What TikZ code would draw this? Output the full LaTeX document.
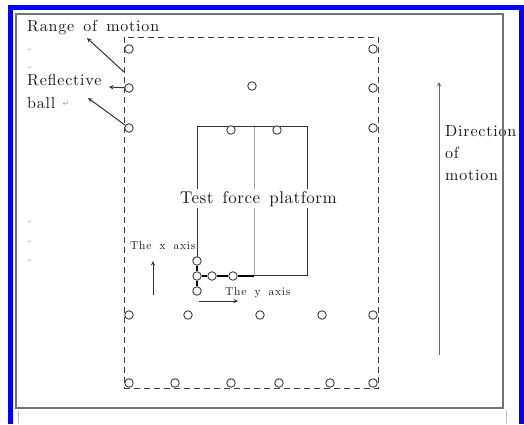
\documentclass[tikz,border=0pt]{standalone}
\usepackage{fontspec}
\newfontfamily\labfont{lmroman10-regular.otf}[LetterSpace=5,WordSpace=1.5]
\newfontfamily\smallfont{lmroman10-regular.otf}[LetterSpace=6,WordSpace=1.8]
\newfontfamily\platfont{lmroman10-regular.otf}[LetterSpace=3,WordSpace=1.5]
\newfontfamily\symfont{DejaVu Sans}
\usetikzlibrary{positioning}

\begin{document}
\begin{tikzpicture}[x=1pt, y=-1pt, >=stealth]
  \tikzstyle{ball}=[circle, draw=black!75, line width=0.9pt, minimum size=8.5pt, inner sep=0pt, fill=white]
  \tikzstyle{lab}=[inner sep=0pt, anchor=base west, text=black!90, font=\labfont\fontsize{16}{18}\selectfont]
  \tikzstyle{small}=[inner sep=0pt, anchor=base west, text=black!90, font=\smallfont\fontsize{11.5}{13}\selectfont]
  \tikzstyle{pmark}=[inner sep=0pt, text=black!35, font=\symfont\fontsize{5}{5}\selectfont]
  \tikzstyle{pointer}=[->, draw=black!80, line width=1pt]

  \useasboundingbox (0,0) rectangle (524,424);

  % frames
  \draw[blue, line width=5pt] (10,424) -- (10,7.5) -- (521,7.5) -- (521,424);
  \draw[black!25, line width=0.8pt] (18,424) -- (18,411);
  \draw[black!25, line width=0.8pt] (506,411) -- (506,424);

  % range of motion
  \draw[black!75, line width=1pt, dash pattern=on 6pt off 4pt] (124.5,37) rectangle (378,388);

  % force platform and axes
  \draw[black!35, line width=0.5pt] (254,126) -- (254,275);
  \draw[black!80, line width=1pt] (197,261) -- (197,126) -- (307,126) -- (307,275) -- (254,275);
  \coordinate (yend) at (254,276);
  \node[ball] (X1) at (197,261) {};
  \node[ball] (X2) at (197,276) {};
  \node[ball] (X3) at (197,291) {};
  \node[ball] (Y1) at (212,276) {};
  \node[ball] (Y2) at (233,276) {};
  \draw[black, line width=2pt] (X1) -- (X2);
  \draw[black, line width=2pt] (X2) -- (X3);
  \draw[black, line width=2pt] (X2) -- (Y1);
  \draw[black, line width=2pt] (Y1) -- (Y2);
  \draw[black, line width=2pt] (Y2) -- (yend);

  \node[inner sep=2pt, fill=white, anchor=base, text=black!90,
        font=\platfont\fontsize{17}{19}\selectfont] (TFP) at (258.5,203) {Test force platform};

  % reflective balls
  \foreach \y [count=\i] in {49,88,128,315,383} {
    \node[ball] (L\i) at (129,\y) {};
    \node[ball] (R\i) at (373,\y) {};
  }
  \node[ball] (M) at (252,86) {};
  \node[ball] (P1) at (231,130) {};
  \node[ball] (P2) at (277,130) {};
  \foreach \x [count=\i] in {188,260,322} {
    \node[ball] (B\i) at (\x,315) {};
  }
  \foreach \x [count=\i] in {175,231,279,330} {
    \node[ball] (E\i) at (\x,383) {};
  }

  % labels
  \node[lab] (RoM) at (27,31) {Range of motion};
  \node[lab] (Refl) at (27,85) {Reflective};
  \node[lab] (Ball) at (27,108) {ball};
  \node[pmark, font=\symfont\fontsize{8}{8}\selectfont] (BallMark) at (66,104) {↵};
  \foreach \y [count=\i] in {50,68,222,242,261} {
    \node[pmark] (PM\i) at (30,\y) {↵};
  }
  \node[small] (XAx) at (130,249) {The x axis};
  \node[small] (YAx) at (225,295) {The y axis};
  \node[lab, anchor=north west, align=left, font=\labfont\fontsize{16}{22}\selectfont]
       (DoM) at (445,125) {Direction\\of\\motion};

  % pointers
  \coordinate (rm0) at (124,72);
  \coordinate (rm1) at (87,38);
  \coordinate (rb1) at (109,87);
  \coordinate (rc1) at (88,98);
  \draw[pointer] (rm0) -- (rm1);
  \draw[pointer] (L2) -- (rb1);
  \draw[pointer] (L3) -- (rc1);

  \coordinate (xa0) at (153,295);
  \coordinate (xa1) at (153,261);
  \coordinate (ya0) at (199,301);
  \coordinate (ya1) at (238,301);
  \draw[pointer] (xa0) -- (xa1);
  \draw[pointer] (ya0) -- (ya1);

  \coordinate (dm0) at (439,355);
  \coordinate (dm1) at (439,82);
  \draw[->, draw=black!60, line width=1pt] (dm0) -- (dm1);

  % inner frame
  \draw[black!55, line width=1.8pt] (16,14) rectangle (503,408);
\end{tikzpicture}
\end{document}
